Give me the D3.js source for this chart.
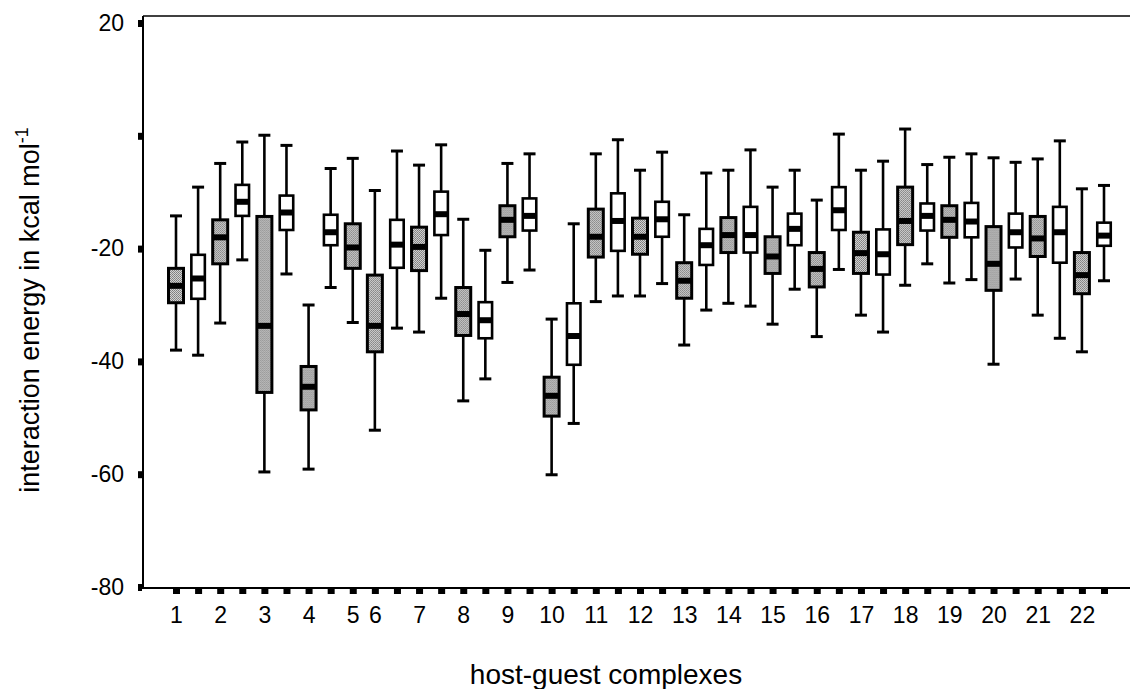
<!DOCTYPE html>
<html>
<head>
	<meta charset="utf-8">
	<title>interaction energies of host-guest complexes</title>
	<script src="https://d3js.org/d3.v7.min.js"></script>
	<style>
		body { margin: 0; background: #fff; }
		text { font-family: "Liberation Sans", Arial, sans-serif; fill: #000; }
	</style>
</head>
<body>
	<svg width="1130" height="689"></svg>
	<script>
		// one slot per box, g = grey (stippled) box, w = white box
		const slotKind = ["g","w","g","w","g","w","g","w","g","g","w","g","w","g","w","g","w","g","w","g","w",
			"g","w","g","w","g","w","g","w","g","w","g","w","g","w","g","w","g","w","g","w","g","w"];
		const slotLabel = ["1","","2","","3","","4","","5","6","","7","","8","","9","","10","","11","",
			"12","","13","","14","","15","","16","","17","","18","","19","","20","","21","","22",""];

		// whisker top, upper quartile, median, lower quartile, whisker bottom (kcal/mol)
		const whiskHi = [-14.2,-9.1,-4.9,-1.1,0.1,-1.7,-30.0,-5.8,-4.0,-9.7,-2.7,-5.2,-1.6,-14.8,-20.3,-4.9,-3.2,-32.5,-15.6,-3.2,-0.7,
			-6.1,-2.9,-14.0,-6.6,-6.1,-2.5,-9.1,-6.1,-11.4,0.3,-6.1,-4.5,1.2,-5.1,-3.8,-3.2,-3.9,-4.7,-4.1,-0.9,-9.4,-8.8];
		const quart3 = [-23.5,-21.1,-14.9,-8.7,-14.3,-10.6,-40.9,-14.0,-15.6,-24.7,-14.9,-16.2,-9.9,-26.9,-29.5,-12.4,-11.1,-42.8,-29.7,-13.0,-10.2,
			-14.6,-11.7,-22.5,-16.5,-14.5,-12.6,-17.9,-13.8,-20.7,-9.1,-17.1,-16.6,-9.1,-12.0,-12.4,-11.9,-16.1,-13.8,-14.3,-12.6,-20.7,-15.4];
		const median = [-26.6,-25.3,-18.0,-11.7,-33.7,-13.6,-44.5,-17.1,-19.8,-33.7,-19.3,-19.7,-13.9,-31.6,-32.7,-14.9,-14.2,-46.1,-35.5,-17.9,-15.1,
			-17.9,-14.8,-25.7,-19.4,-17.6,-17.6,-21.4,-16.5,-23.6,-13.2,-20.8,-21.0,-15.1,-14.2,-14.9,-15.2,-22.7,-17.1,-18.2,-17.1,-24.7,-17.7];
		const quart1 = [-29.6,-28.9,-22.7,-14.2,-45.5,-16.7,-48.6,-19.4,-23.5,-38.3,-23.4,-23.9,-17.6,-35.4,-35.9,-17.9,-16.8,-49.7,-40.6,-21.5,-20.4,
			-21.0,-17.9,-28.8,-22.9,-20.7,-20.7,-24.4,-19.4,-26.8,-16.7,-24.4,-24.6,-19.3,-16.8,-18.0,-18.0,-27.4,-19.8,-21.4,-22.5,-28.0,-19.5];
		const whiskLo = [-38.0,-38.9,-33.2,-22.0,-59.6,-24.5,-59.1,-26.9,-33.1,-52.2,-34.1,-34.8,-28.8,-47.0,-43.1,-26.0,-23.8,-60.1,-51.0,-29.4,-28.4,
			-28.4,-26.2,-37.1,-30.9,-29.7,-30.2,-33.4,-27.2,-35.6,-23.7,-31.8,-34.8,-26.5,-22.7,-26.1,-25.5,-40.5,-25.4,-31.8,-35.9,-38.3,-25.7];

		const yTicks = [20, 0, -20, -40, -60, -80];
		const yTickLabels = ["20", "", "-20", "-40", "-60", "-80"];

		const W = 1130, H = 689;
		const frameLeft = 143, frameTop = 16, frameBottom = 588;

		const svg = d3.select('svg');

		const x = d3.scalePoint()
			.domain(d3.range(slotKind.length))
			.range([176, 1104]);

		const y = d3.scaleLinear()
			.domain([-80, 20])
			.range([587, 23]);

		// stipple for the grey boxes
		const pat = svg.append('defs').append('pattern')
			.attr('id', 'stipple')
			.attr('width', 2).attr('height', 2)
			.attr('patternUnits', 'userSpaceOnUse');
		pat.append('rect').attr('width', 2).attr('height', 2).attr('fill', '#d2d2d2');
		pat.append('rect').attr('width', 1).attr('height', 1).attr('fill', '#7c7c7c');
		pat.append('rect').attr('x', 1).attr('y', 1).attr('width', 1).attr('height', 1).attr('fill', '#8a8a8a');

		// frame: top, left and bottom lines
		svg.append('line')
			.attr('x1', frameLeft).attr('x2', W).attr('y1', frameTop).attr('y2', frameTop)
			.attr('stroke', '#000').attr('stroke-width', 1.5);
		svg.append('line')
			.attr('x1', frameLeft).attr('x2', frameLeft).attr('y1', frameTop).attr('y2', frameBottom + 1)
			.attr('stroke', '#000').attr('stroke-width', 2);
		svg.append('line')
			.attr('x1', frameLeft).attr('x2', W).attr('y1', frameBottom).attr('y2', frameBottom)
			.attr('stroke', '#000').attr('stroke-width', 2);

		// y axis
		const yAxis = svg.append('g')
			.attr('transform', `translate(${frameLeft - 1},0)`)
			.call(d3.axisLeft(y)
				.tickValues(yTicks)
				.tickSize(4)
				.tickPadding(14)
				.tickFormat((d, i) => yTickLabels[i]));
		yAxis.select('.domain').remove();
		yAxis.selectAll('.tick line').attr('stroke', '#000').attr('stroke-width', 7);
		yAxis.selectAll('.tick text')
			.attr('font-size', 23)
			.attr('font-family', '"Liberation Sans", Arial, sans-serif')
			.attr('fill', '#000');

		// x axis
		const xAxis = svg.append('g')
			.attr('transform', `translate(0,${frameBottom + 1})`)
			.call(d3.axisBottom(x)
				.tickSize(5)
				.tickPadding(13)
				.tickFormat((d, i) => slotLabel[i]));
		xAxis.select('.domain').remove();
		xAxis.selectAll('.tick line').attr('stroke', '#000').attr('stroke-width', 7);
		xAxis.selectAll('.tick text')
			.attr('font-size', 23)
			.attr('font-family', '"Liberation Sans", Arial, sans-serif')
			.attr('fill', '#000');

		// boxes
		const boxes = svg.append('g').selectAll('g')
			.data(d3.range(slotKind.length))
			.enter()
			.append('g')
			.attr('transform', i => `translate(${x(i)},0)`);

		const bw = i => slotKind[i] === 'g' ? 15 : 13.5;
		const capW = 12;

		boxes.append('line')
			.attr('y1', i => y(whiskHi[i])).attr('y2', i => y(whiskLo[i]))
			.attr('stroke', '#000').attr('stroke-width', 2.6);
		boxes.append('line')
			.attr('x1', -capW / 2).attr('x2', capW / 2)
			.attr('y1', i => y(whiskHi[i])).attr('y2', i => y(whiskHi[i]))
			.attr('stroke', '#000').attr('stroke-width', 3);
		boxes.append('line')
			.attr('x1', -capW / 2).attr('x2', capW / 2)
			.attr('y1', i => y(whiskLo[i])).attr('y2', i => y(whiskLo[i]))
			.attr('stroke', '#000').attr('stroke-width', 3);
		boxes.append('rect')
			.attr('x', i => -bw(i) / 2)
			.attr('width', bw)
			.attr('y', i => y(quart3[i]))
			.attr('height', i => y(quart1[i]) - y(quart3[i]))
			.attr('fill', i => slotKind[i] === 'g' ? 'url(#stipple)' : '#fff')
			.attr('stroke', '#000')
			.attr('stroke-width', i => slotKind[i] === 'g' ? 3 : 2.6);
		boxes.append('rect')
			.attr('x', i => -bw(i) / 2)
			.attr('width', bw)
			.attr('y', i => y(median[i]) - 3)
			.attr('height', 6)
			.attr('fill', '#000');

		// axis titles
		const yTitle = svg.append('text')
			.attr('transform', 'translate(39,310) rotate(-90)')
			.attr('text-anchor', 'middle')
			.attr('font-size', 27);
		yTitle.append('tspan').text('interaction energy in kcal mol');
		yTitle.append('tspan').attr('dy', -11).attr('font-size', 18).text('-1');

		svg.append('text')
			.attr('x', 606)
			.attr('y', 684)
			.attr('text-anchor', 'middle')
			.attr('font-size', 28)
			.text('host-guest complexes');
	</script>
</body>
</html>
